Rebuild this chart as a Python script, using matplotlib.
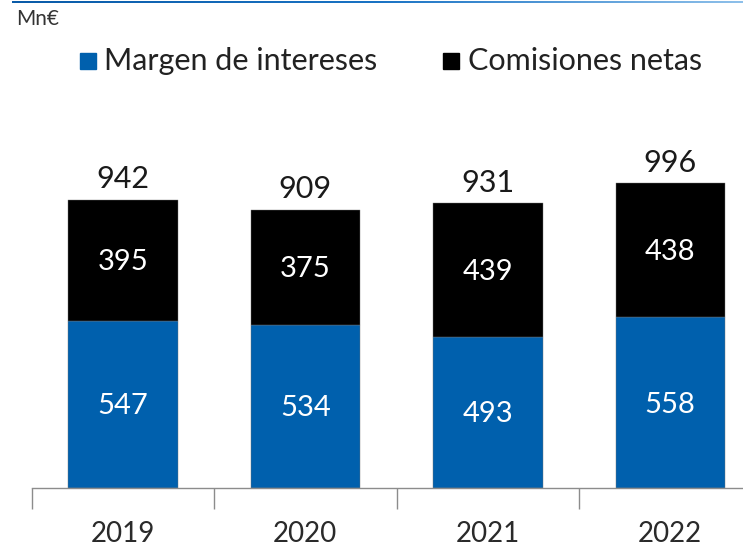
import matplotlib.pyplot as plt
import numpy as np
from matplotlib.colors import LinearSegmentedColormap

years = ["2019", "2020", "2021", "2022"]
margen = [547, 534, 493, 558]
comisiones = [395, 375, 439, 438]
totales = [942, 909, 931, 996]

BLUE = "#0060AD"
FONT = ["Lato", "DejaVu Sans"]
WT = "normal"

fig = plt.figure(figsize=(7.43, 5.48), dpi=100)
W, H = 743, 548

# blue gradient rule across the top
gax = fig.add_axes([12 / W, 1 - 3 / H, 1 - 12 / W, 2.5 / H])
grad = np.linspace(0, 1, 256).reshape(1, -1)
cmap = LinearSegmentedColormap.from_list("g", ["#0A5BA8", "#1A73C4", "#8EC0EA"])
gax.imshow(grad, aspect="auto", cmap=cmap)
gax.axis("off")

# main axes: extends past right edge like the original
x0, x1 = 31.5, 761.5
ybase, ytop = 488, 488 - 0.3058 * 1000
ax = fig.add_axes([x0 / W, 1 - ybase / H, (x1 - x0) / W, (ybase - ytop) / H])
x = np.arange(len(years))
ax.bar(x, margen, width=0.6, color=BLUE, edgecolor="#777777", linewidth=0.3)
ax.bar(x, comisiones, width=0.6, bottom=margen, color="black", edgecolor="#777777", linewidth=0.3)

for i in range(len(years)):
    ax.text(x[i], margen[i] / 2 - 6, str(margen[i]), ha="center", va="center",
            color="white", fontsize=21, family=FONT, weight=WT)
    ax.text(x[i], margen[i] + comisiones[i] / 2 - 6, str(comisiones[i]), ha="center", va="center",
            color="white", fontsize=21, family=FONT, weight=WT)
    ax.text(x[i], totales[i] + 22, str(totales[i]), ha="center", va="bottom",
            color="#1a1a1a", fontsize=22, family=FONT, weight=WT)

ax.set_xlim(-0.5, 3.5)
ax.set_ylim(0, 1000)
for s in ["top", "right", "left"]:
    ax.spines[s].set_visible(False)
ax.spines["bottom"].set_color("#8C8C8C")
ax.spines["bottom"].set_linewidth(1)
ax.set_yticks([])
ax.set_xticks(x)
ax.set_xticklabels(years, fontsize=20, family=FONT, weight=WT, color="#2a2a2a")
ax.tick_params(axis="x", which="major", length=0, pad=24)
ax.set_xticks(np.arange(-0.5, 4.0, 1.0), minor=True)
ax.tick_params(axis="x", which="minor", length=15, width=1, color="#8C8C8C")

# unit and legend
fig.text(16 / W, 1 - 19 / H, "Mn€", fontsize=15, family=FONT, weight=WT,
         color="#333333", va="center", ha="left")
fig.patches.append(plt.Rectangle((80 / W, 1 - 69 / H), 16 / W, 16 / H,
                                 transform=fig.transFigure, color=BLUE))
fig.text(104 / W, 1 - 61 / H, "Margen de intereses", fontsize=22, family=FONT,
         weight=WT, va="center", ha="left", color="#222222")
fig.patches.append(plt.Rectangle((443 / W, 1 - 69 / H), 16 / W, 16 / H,
                                 transform=fig.transFigure, color="black"))
fig.text(468 / W, 1 - 61 / H, "Comisiones netas", fontsize=22, family=FONT,
         weight=WT, va="center", ha="left", color="#222222")

fig.savefig("out.png", dpi=100)
